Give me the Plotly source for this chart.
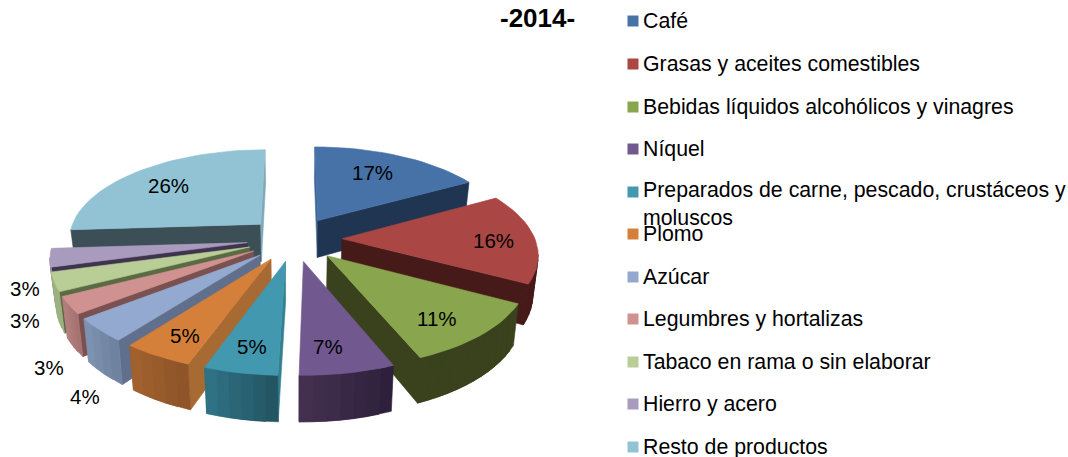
import math
import plotly.graph_objects as go

# ---- data ----
categories = ["Café", "Grasas y aceites comestibles", "Bebidas líquidos alcohólicos y vinagres",
              "Níquel", "Preparados de carne, pescado, crustáceos y<br>moluscos", "Plomo", "Azúcar",
              "Legumbres y hortalizas", "Tabaco en rama o sin elaborar", "Hierro y acero", "Resto de productos"]
shares = [16.9, 15.9, 11.0, 6.6, 5.1, 4.9, 4.1, 3.0, 3.3, 3.2, 26.0]

# ---- style ----
top_colors = ["#4672A8", "#AA4643", "#89A54E", "#71588F", "#4198AF", "#D5803A",
              "#93A9CF", "#D09291", "#B9CD96", "#A99BBD", "#91C3D5"]
start_wall = ["#3E6798", "#451A18", "#39421C", "#3E2E50", "#338091", "#A66A32",
              "#5F6F8C", "#7A5150", "#5A6A42", "#3F344E", "#3D4F56"]
end_wall = ["#1F3552", "#451A18", "#39421C", "#3E2E50", "#2E7F93", "#A66A32",
            "#5F6F8C", "#7A5150", "#5A6A42", "#3F344E", "#7FA9B8"]
outer_a = ["#1F3552", "#451A18", "#39421C", "#43304F", "#2F7285", "#A0612E",
           "#7D91B0", "#B27F7E", "#9DB07F", "#918AA3", "#6F97A6"]
outer_b = ["#1F3552", "#4A1C1A", "#39421C", "#2E203C", "#245563", "#8F5528",
           "#6F82A0", "#A67372", "#9DB07F", "#918AA3", "#6F97A6"]
label_xy = [(372, 172), (493, 240), (437, 318), (328, 346), (252, 346), (185, 335),
            (85, 396), (49, 367), (25, 320), (25, 288), (168, 185)]
legend_y = [21, 64, 107, 149, 204, 234, 277, 319, 362, 404, 447]
legend_marker_y = [21, 64, 107, 149, 192, 234, 277, 319, 362, 404, 447]

CX, CY, A, B, H, P, EXPL, TAPER = 294.5, 239, 193, 89.6, 38, 0.148, 0.246, 0.022
FONT = "Liberation Sans"


def project(u, v, z=0.0):
    s = 1 / (1 - P * v)
    return CX + A * u * s * (1 - TAPER * z), CY + B * v * s + H * z * s


def direction(theta):
    return math.sin(theta), -math.cos(theta)


def mix(c1, c2, t):
    a = [int(c1[i:i + 2], 16) for i in (1, 3, 5)]
    b = [int(c2[i:i + 2], 16) for i in (1, 3, 5)]
    return "rgb(%d,%d,%d)" % tuple(round(p + (q - p) * t) for p, q in zip(a, b))


fig = go.Figure()


def poly(pts, color):
    xs = [p[0] for p in pts] + [pts[0][0]]
    ys = [p[1] for p in pts] + [pts[0][1]]
    fig.add_trace(go.Scatter(x=xs, y=ys, mode="lines", fill="toself", fillcolor=color,
                             line=dict(color=color, width=0.6), hoverinfo="skip", showlegend=False))


def faces_viewer(pu, pv, nu, nv):
    return (0 - pu) * nu + (1 / P - pv) * nv > 0


total = sum(shares)
slices = []
acc = 0
for i, share in enumerate(shares):
    a0 = acc / total * 2 * math.pi
    acc += share
    a1 = acc / total * 2 * math.pi
    slices.append((i, a0, a1))

# painter's order: furthest slice first
slices.sort(key=lambda t: -math.cos((t[1] + t[2]) / 2))

for i, a0, a1 in slices:
    mid = (a0 + a1) / 2
    du, dv = direction(mid)
    au, av = du * EXPL, dv * EXPL
    n = max(4, int((a1 - a0) / math.radians(3)))
    arc = []
    for k in range(n + 1):
        t = a0 + (a1 - a0) * k / n
        su, sv = direction(t)
        arc.append((au + su, av + sv, t))
    # radial walls
    if faces_viewer(au, av, -math.cos(a0), -math.sin(a0)):
        e = arc[0]
        poly([project(au, av), project(e[0], e[1]), project(e[0], e[1], 1), project(au, av, 1)], start_wall[i])
    if faces_viewer(au, av, math.cos(a1), math.sin(a1)):
        e = arc[-1]
        poly([project(au, av), project(e[0], e[1]), project(e[0], e[1], 1), project(au, av, 1)], end_wall[i])
    # outer wall facets, each overlapping the next so no seams show
    vis = [k for k in range(n)
           if faces_viewer(arc[k][0], arc[k][1], *direction((arc[k][2] + arc[k + 1][2]) / 2))]
    for k in vis:
        p, q = arc[k], arc[min(k + 2, vis[-1] + 1)]
        poly([project(p[0], p[1]), project(q[0], q[1]), project(q[0], q[1], 1), project(p[0], p[1], 1)],
             mix(outer_b[i], outer_a[i], k / max(1, n - 1)))
    # top face
    poly([project(au, av)] + [project(p[0], p[1]) for p in arc], top_colors[i])

# legend markers
fig.add_trace(go.Scatter(x=[633] * len(categories), y=legend_marker_y, mode="markers",
                         marker=dict(symbol="square", size=11, color=top_colors),
                         hoverinfo="skip", showlegend=False))

annotations = []
for share, (lx, ly) in zip(shares, label_xy):
    annotations.append(dict(x=lx, y=ly, xref="x", yref="y", text=f"{share:.0f}%", showarrow=False,
                            xanchor="center", yanchor="middle",
                            font=dict(family=FONT, size=20.5, color="#000000")))
for name, ly in zip(categories, legend_y):
    annotations.append(dict(x=641, y=ly, xref="x", yref="y", text=name, showarrow=False, align="left",
                            xanchor="left", yanchor="middle",
                            font=dict(family=FONT, size=21.3, color="#000000")))
annotations.append(dict(x=537, y=18, xref="x", yref="y", text="<b>-2014-</b>", showarrow=False,
                        xanchor="center", yanchor="middle",
                        font=dict(family=FONT, size=26, color="#000000")))

fig.update_layout(
    width=1068, height=457, margin=dict(l=0, r=0, t=0, b=0),
    paper_bgcolor="#FFFFFF", plot_bgcolor="#FFFFFF", showlegend=False,
    xaxis=dict(range=[0, 1068], visible=False, fixedrange=True),
    yaxis=dict(range=[457, 0], visible=False, fixedrange=True),
    annotations=annotations,
)
fig.write_html("out.html", config={"displayModeBar": False},
               post_script="document.body.style.margin='0';document.body.style.overflow='hidden';")
